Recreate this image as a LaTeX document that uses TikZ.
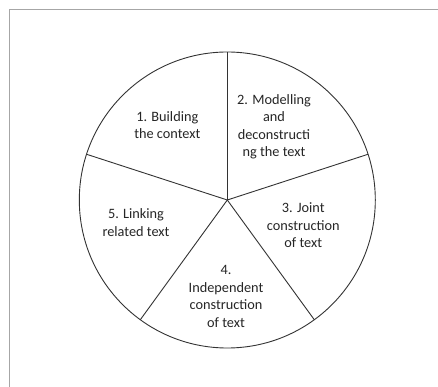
\documentclass[tikz,border=0pt]{standalone}
\usepackage{fontspec}
\setmainfont{Carlito}
\usetikzlibrary{calc}
\begin{document}
\begin{tikzpicture}[x=1pt,y=1pt,
  frameline/.style={draw=black!35,line width=1.2pt},
  pieline/.style={draw=black!80,line width=0.9pt},
  label/.style={align=center,text=black!85,font=\fontsize{14.3}{17.5}\selectfont,inner sep=0pt}]
\useasboundingbox (0,0) rectangle (438,387);
\fill[white] (0,0) rectangle (438,387);
\coordinate (fb) at (9.5,0);
\coordinate (fc) at (9.5,377.5);
\coordinate (fr) at (438,377.5);
\draw[frameline] (fb) -- (fc) -- (fr);
\coordinate (c) at (227.3,187);
\draw[pieline] (c) circle (148);
\foreach \a [count=\i] in {90,18,-54,-126,162}{
  \coordinate (p\i) at ($(c)+(\a:148)$);
  \draw[pieline] (c) -- (p\i);
}
\node[label] (t1) at (167.3,262) {1. Building\\the context};
\node[label] (t2) at (274,260.3) {2. Modelling\\and\\deconstructi\\ng the text};
\node[label] (t3) at (303.3,161.7) {3. Joint\\construction\\of text};
\node[label] (t4) at (226,90.5) {4.\\Independent\\construction\\of text};
\node[label] (t5) at (136,164.3) {5. Linking\\related text};
\end{tikzpicture}
\end{document}
